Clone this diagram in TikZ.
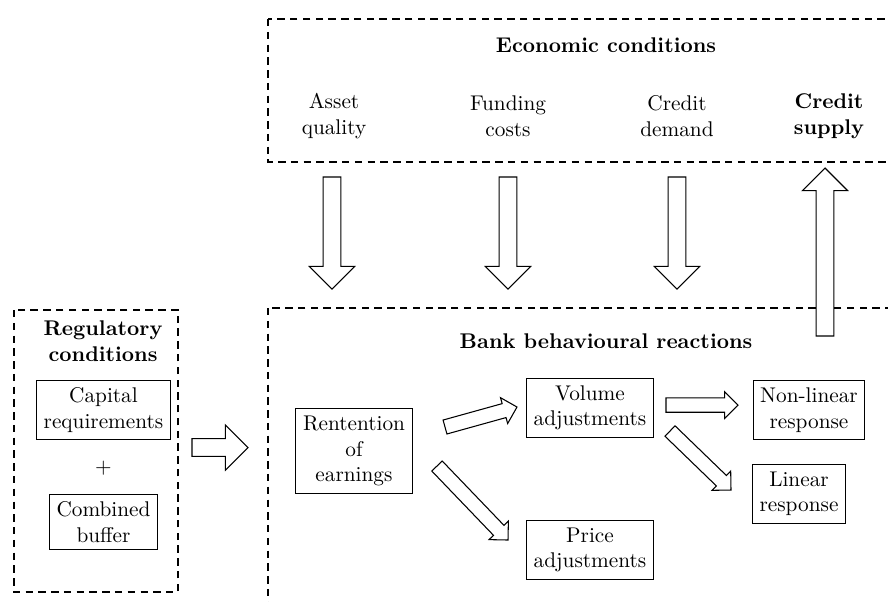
\documentclass[tikz,border=0pt]{standalone}
\usetikzlibrary{calc}

% block arrow: tail, tip, half shaft, half head, head length
\newcommand{\fatarrow}[5]{%
  \coordinate (fa-base) at ($(#2)!#5!(#1)$);
  \draw[fill=white] ($(#1)!#3!90:(#2)$) -- ($(fa-base)!#3!90:(#2)$) -- ($(fa-base)!#4!90:(#2)$) -- (#2)
    -- ($(fa-base)!#4!-90:(#2)$) -- ($(fa-base)!#3!-90:(#2)$) -- ($(#1)!#3!-90:(#2)$) -- cycle;
}

\begin{document}
\begin{tikzpicture}[x=0.47pt, y=-0.47pt, line width=0.5pt]

        % Styles
        \tikzstyle{frame}=[dash pattern=on 3.5pt off 2.5pt, line width=0.6pt]
        \tikzstyle{heading}=[font=\bfseries, align=center]
        \tikzstyle{plain text}=[align=center]
        \tikzstyle{box}=[draw, align=center]
        %The graphic
        \clip (0,0) rectangle (888,601);
        %frames
        \draw[style=frame] (268,19) rectangle (944,162);
        \draw[style=frame] (268,308) rectangle (944,640);
        \draw[style=frame] (14,310) rectangle (178,592);

        %economic conditions
        \node[heading] (econ) at (606,45) {Economic conditions};
        \node[plain text] (asset) at (334,116) {Asset\\quality};
        \node[plain text] (funding) at (508,116) {Funding\\costs};
        \node[plain text] (demand) at (677,116) {Credit\\demand};
        \node[heading] (supply) at (829,116) {Credit\\supply};

        %regulatory conditions
        \node[heading] (reg) at (103,341) {Regulatory\\conditions};
        \node[box] (capital) at (103.5,410) {Capital\\requirements};
        \node (plus) at (103.5,468) {$+$};
        \node[box] (buffer) at (103.5,522) {Combined\\buffer};

        %bank reactions
        \node[heading] (bank) at (606,341) {Bank behavioural reactions};
        \node[box] (ret) at (354,451) {Rentention\\of\\earnings};
        \node[box] (vol) at (590,408) {Volume\\adjustments};
        \node[box] (price) at (590,550) {Price\\adjustments};
        \node[box] (nonlin) at (809,410) {Non-linear\\response};
        \node[box] (lin) at (799,494) {Linear\\response};

        %arrow ends
        \coordinate (asset-a) at (332,177);   \coordinate (asset-b) at (332,289);
        \coordinate (funding-a) at (508,177); \coordinate (funding-b) at (508,289);
        \coordinate (demand-a) at (677,177);  \coordinate (demand-b) at (677,289);
        \coordinate (supply-a) at (825,336);  \coordinate (supply-b) at (825,168);
        \coordinate (reg-a) at (192,447.5);   \coordinate (reg-b) at (248,447.5);
        \coordinate (vol-a) at (445,427);     \coordinate (vol-b) at (517,407);
        \coordinate (price-a) at (437,466);   \coordinate (price-b) at (508,540);
        \coordinate (nonlin-a) at (666,405);  \coordinate (nonlin-b) at (738,405);
        \coordinate (lin-a) at (670,431);     \coordinate (lin-b) at (731,490);

        %arrows
        \foreach \n in {asset,funding,demand,supply,reg}
            \fatarrow{\n-a}{\n-b}{4.2pt}{10.6pt}{10.6pt};
        \foreach \n in {vol,price,nonlin,lin}
            \fatarrow{\n-a}{\n-b}{3.4pt}{6.3pt}{6.3pt};
\end{tikzpicture}
\end{document}
